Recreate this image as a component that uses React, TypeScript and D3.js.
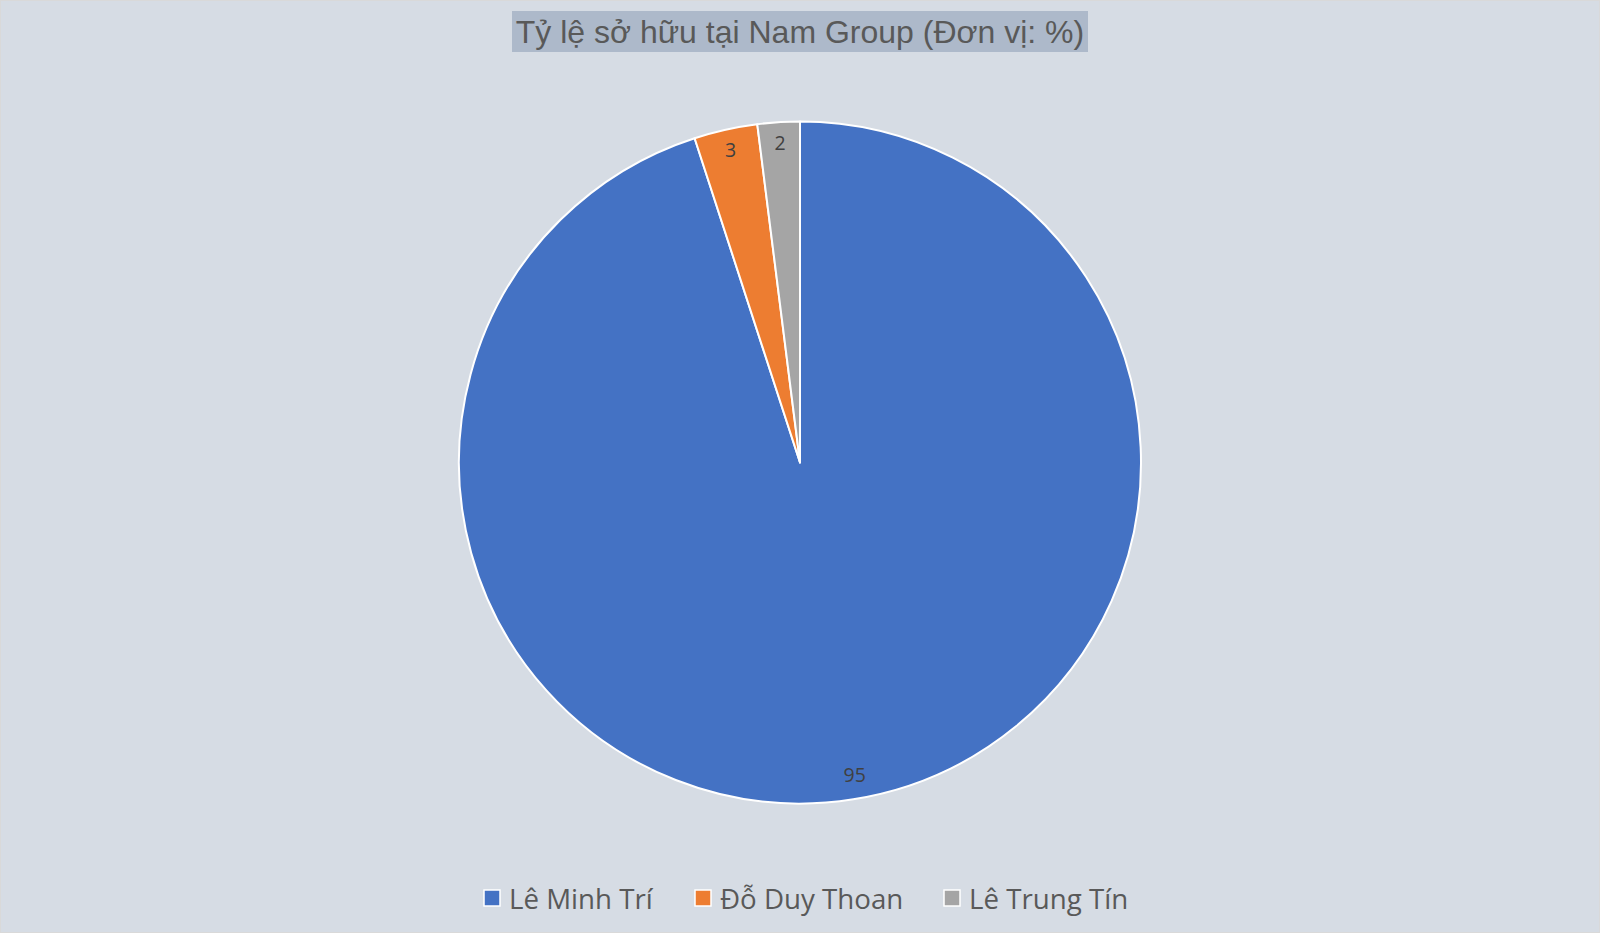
import React from "react";
import * as d3 from "d3";

const names = ["Lê Minh Trí", "Đỗ Duy Thoan", "Lê Trung Tín"];
const values = [95, 3, 2];
const colors = ["#4472c4", "#ed7d31", "#a5a5a5"];
const title = "Tỷ lệ sở hữu tại Nam Group (Đơn vị: %)";

const W = 1600;
const H = 933;
const cx = 800;
const cy = 462.5;
const R = 341;
const labelR = 318;

const legendX = [484, 695, 944];

export default function App() {
  const pie = d3.pie<number>().sort(null).value((d) => d)(values);
  const arc = d3.arc<d3.PieArcDatum<number>>().innerRadius(0).outerRadius(R);
  const labelArc = d3.arc<d3.PieArcDatum<number>>().innerRadius(labelR).outerRadius(labelR);
  return (
    <div style={{ position: "fixed", left: 0, top: 0, width: W, height: H }}>
      <svg width={W} height={H} style={{ display: "block" }}>
        <rect x={0.5} y={0.5} width={W - 1} height={H - 1} fill="#d6dce4" stroke="#d9d9d9" strokeWidth={1} />
        <rect x={512} y={11} width={576} height={41} fill="#adb9ca" />
        <text
          x={800}
          y={32}
          textAnchor="middle"
          dominantBaseline="central"
          fontFamily="'Liberation Sans', Arial, sans-serif"
          fontSize={32}
          fill="#595959"
        >
          {title}
        </text>
        <g transform={`translate(${cx},${cy})`}>
          {pie.map((p, i) => (
            <path key={i} d={arc(p) || ""} fill={colors[i]} stroke="#ffffff" strokeWidth={2} strokeLinejoin="round" />
          ))}
          {pie.map((p, i) => {
            const [x, y] = labelArc.centroid(p);
            return (
              <text
                key={"l" + i}
                x={x + (i === 0 ? 5 : 0)}
                y={y - 2.5}
                textAnchor="middle"
                dominantBaseline="central"
                fontFamily="'Open Sans', 'Noto Sans', sans-serif"
                fontSize={19.5}
                fill="#404040"
              >
                {values[i]}
              </text>
            );
          })}
        </g>
        {names.map((n, i) => (
          <g key={"lg" + i}>
            <rect x={legendX[i]} y={890} width={16} height={16} fill={colors[i]} stroke="#ffffff" strokeWidth={1.5} />
            <text
              x={legendX[i] + 25}
              y={898}
              dominantBaseline="central"
              fontFamily="'Open Sans', 'Noto Sans', sans-serif"
              fontSize={27.7}
              fill="#595959"
            >
              {n}
            </text>
          </g>
        ))}
      </svg>
    </div>
  );
}
